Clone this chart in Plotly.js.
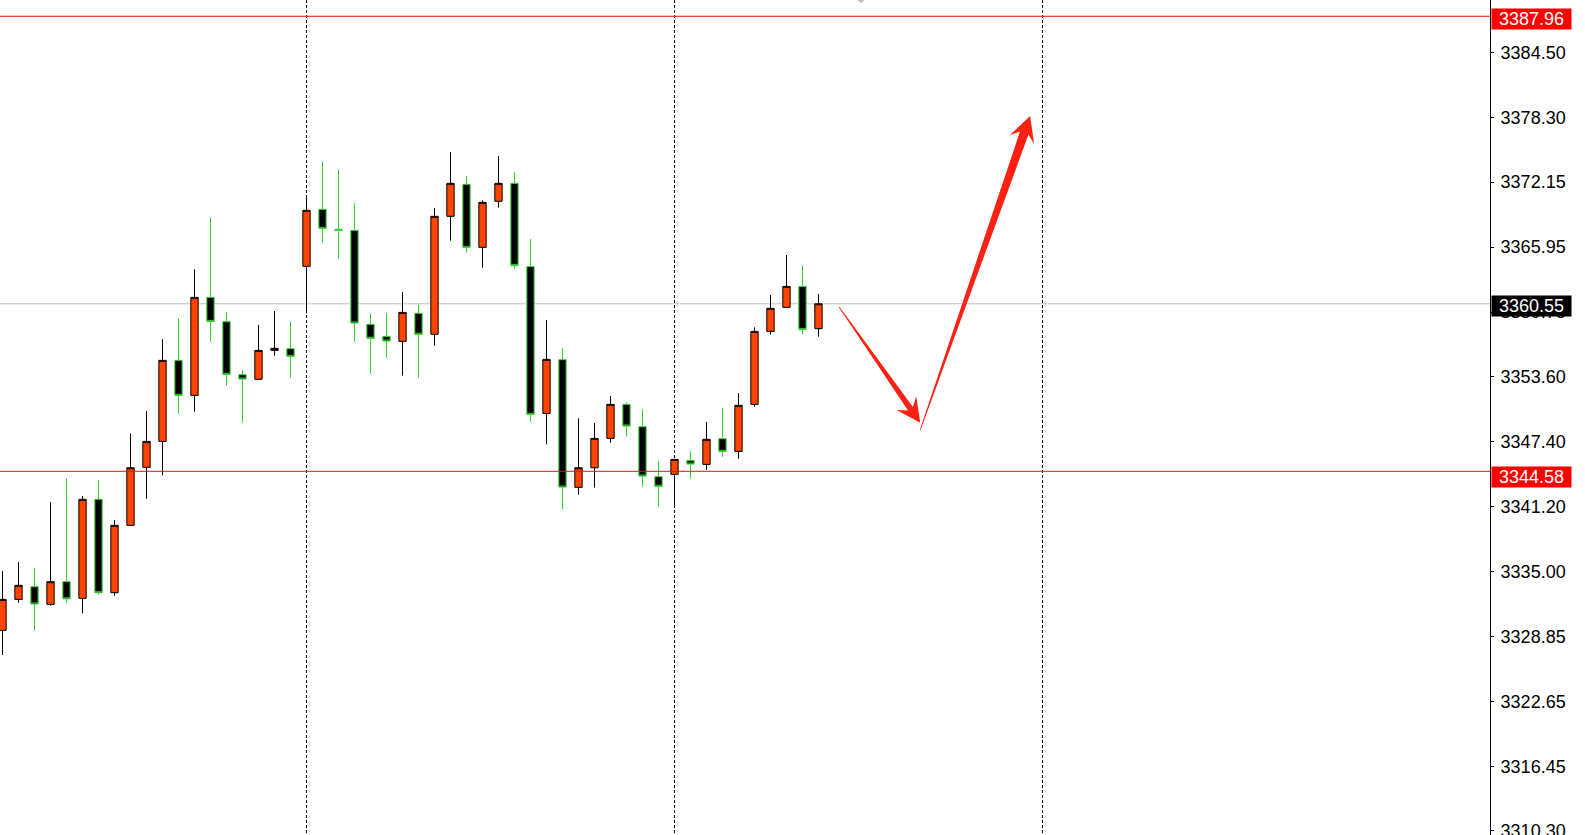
<!DOCTYPE html>
<html>
<head>
<meta charset="utf-8">
<script src="https://cdn.plot.ly/plotly-3.0.1.min.js"></script>
<style>
html,body{margin:0;padding:0;background:#ffffff;overflow:hidden}
#chart{width:1585px;height:835px}
</style>
</head>
<body>
<div id="chart"></div>
<script>
// ---- data (XAUUSD H1 style candles) ----
const barIndex = [0,1,2,3,4,5,6,7,8,9,10,11,12,13,14,15,16,17,18,19,20,21,22,23,24,25,
  26,27,28,29,30,31,32,33,34,35,36,37,38,39,40,41,42,43,44,45,46,47,48,49,50,51];
const openPrices = [3329.42,3332.37,3333.58,3331.90,3334.06,3332.47,3341.91,3333.01,3339.43,3344.96,
  3347.43,3355.16,3351.82,3361.16,3358.84,3353.79,3353.35,3356.11,3356.27,3364.12,
  3369.55,3367.65,3367.55,3358.59,3357.45,3356.97,3359.64,3357.64,3368.89,3371.94,
  3365.93,3370.32,3372.03,3364.09,3350.10,3355.22,3343.05,3344.92,3347.72,3350.96,
  3348.83,3344.07,3344.29,3345.62,3345.24,3347.69,3346.48,3350.96,3357.92,3360.21,
  3362.21,3358.18];
const highPrices = [3335.07,3335.93,3335.36,3341.65,3343.91,3342.22,3343.75,3339.93,3348.20,3350.33,
  3357.16,3359.16,3363.83,3368.73,3359.73,3354.24,3358.53,3359.86,3358.81,3370.92,
  3374.07,3373.30,3370.16,3359.58,3359.67,3361.67,3360.46,3369.68,3375.02,3372.73,
  3370.41,3374.64,3373.08,3366.73,3359.00,3356.30,3349.63,3349.18,3351.76,3351.15,
  3350.49,3345.56,3345.72,3346.51,3349.28,3350.61,3352.04,3358.30,3361.39,3365.20,
  3364.15,3361.48];
const lowPrices = [3327.06,3332.05,3329.45,3331.77,3332.05,3331.04,3332.82,3332.72,3339.43,3341.97,
  3344.19,3350.07,3350.26,3356.94,3352.74,3349.22,3353.35,3355.60,3353.51,3359.64,
  3366.38,3364.85,3356.94,3353.89,3355.41,3353.70,3353.51,3356.56,3366.57,3365.42,
  3363.99,3369.71,3363.90,3349.31,3347.15,3340.95,3342.35,3343.02,3347.31,3347.88,
  3343.11,3341.21,3341.10,3343.88,3344.70,3345.97,3345.78,3350.74,3357.60,3360.21,
  3357.60,3357.41];
const closePrices = [3332.37,3333.71,3331.93,3334.06,3332.43,3341.91,3333.01,3339.43,3344.92,3347.43,
  3355.16,3351.82,3361.16,3358.87,3353.82,3353.38,3356.11,3356.30,3355.54,3369.46,
  3367.74,3367.57,3358.72,3357.26,3357.00,3359.73,3357.64,3368.89,3372.03,3365.93,
  3370.22,3372.03,3364.21,3350.01,3355.25,3343.08,3344.92,3347.72,3350.96,3348.90,
  3344.13,3343.15,3345.72,3345.27,3347.63,3346.48,3350.87,3357.92,3360.12,3362.21,
  3358.11,3360.55];

const daySeparators = [19, 42, 65];
const priceTicks = [3384.50, 3378.30, 3372.15, 3365.95, 3359.75, 3353.60, 3347.40,
  3341.20, 3335.00, 3328.85, 3322.65, 3316.45, 3310.30];
const priceTickLabels = ["3384.50","3378.30","3372.15","3365.95","3359.75","3353.60","3347.40",
  "3341.20","3335.00","3328.85","3322.65","3316.45","3310.30"];
const levelPrices = [3387.96, 3344.58];
const levelLabels = ["3387.96", "3344.58"];
const bidPrice = 3360.55;
const bidLabel = "3360.55";
// drawn forecast arrows: [barIndex, price] tail -> tip
const arrowDown = {tail: [52.29, 3360.24], tip: [57.36, 3349.21]};
const arrowUp = {tail: [57.36, 3348.52], tip: [64.23, 3378.45]};

// ---- view ----
const xRange = [-0.156, 92.97];
const yRange = [3309.91, 3389.51];
const plotW = 1490, plotH = 835;

function toPx(pt) {
  return [(pt[0] - xRange[0]) / (xRange[1] - xRange[0]) * plotW,
          (yRange[1] - pt[1]) / (yRange[1] - yRange[0]) * plotH];
}
function toData(px) {
  return [xRange[0] + px[0] / plotW * (xRange[1] - xRange[0]),
          yRange[1] - px[1] / plotH * (yRange[1] - yRange[0])];
}
function arrowPath(a, shaftTail, shaftHead, headLen, headHalf, notch) {
  const T = toPx(a.tail), H = toPx(a.tip);
  const dx = H[0] - T[0], dy = H[1] - T[1];
  const len = Math.hypot(dx, dy);
  const u = [dx / len, dy / len], n = [-u[1], u[0]];
  const P = (base, along, side) => [base[0] + u[0] * along + n[0] * side, base[1] + u[1] * along + n[1] * side];
  const pts = [
    P(T, 0, shaftTail),
    P(H, -notch, shaftHead),
    P(H, -headLen, headHalf),
    H,
    P(H, -headLen, -headHalf),
    P(H, -notch, -shaftHead),
    P(T, 0, -shaftTail)
  ].map(toData);
  return 'M' + pts.map(p => p[0].toFixed(4) + ',' + p[1].toFixed(4)).join(' L') + ' Z';
}

const candles = {
  type: 'candlestick',
  x: barIndex,
  open: openPrices,
  high: highPrices,
  low: lowPrices,
  close: closePrices,
  increasing: {line: {color: '#000000', width: 1}, fillcolor: '#FF4500'},
  decreasing: {line: {color: '#32D232', width: 1}, fillcolor: '#000000'},
  whiskerwidth: 0,
  hoverinfo: 'none'
};

const fontFam = '"Liberation Sans", Arial, sans-serif';
const shapes = [];
shapes.push({type: 'line', xref: 'paper', x0: 0, x1: 1, yref: 'y', y0: bidPrice, y1: bidPrice,
  line: {color: '#C0C0C0', width: 1}, layer: 'below'});
levelPrices.forEach(p => shapes.push({type: 'line', xref: 'paper', x0: 0, x1: 1, yref: 'y', y0: p, y1: p,
  line: {color: '#DC1414', width: 1}, layer: 'above'}));
shapes.push({type: 'path', xref: 'x', yref: 'y', path: arrowPath(arrowDown, 0.4, 3, 24, 12, 17),
  fillcolor: '#FF2014', line: {width: 0}, layer: 'above'});
shapes.push({type: 'path', xref: 'x', yref: 'y', path: arrowPath(arrowUp, 0.4, 4.5, 25, 13, 18),
  fillcolor: '#FF2014', line: {width: 0}, layer: 'above'});
// chart-shift marker at the top
shapes.push({type: 'path', xref: 'paper', yref: 'paper',
  path: 'M0.5752,1 L0.5805,1 L0.5779,0.9964 Z', fillcolor: '#C0C0C0', line: {width: 0}});

const levelShifts = [-3, -5.5];
const annotations = [];
levelPrices.forEach((p, i) => annotations.push({
  xref: 'paper', x: 1, xanchor: 'left', xshift: 1, yref: 'y', y: p, yanchor: 'middle', yshift: levelShifts[i],
  text: levelLabels[i], showarrow: false, bgcolor: '#FF0000', borderpad: 0, width: 79, height: 20,
  font: {family: fontFam, size: 18, color: '#FFFFFF'}
}));
annotations.push({
  xref: 'paper', x: 1, xanchor: 'left', xshift: 1, yref: 'y', y: bidPrice, yanchor: 'middle', yshift: -2,
  text: bidLabel, showarrow: false, bgcolor: '#000000', borderpad: 0, width: 79, height: 20,
  font: {family: fontFam, size: 18, color: '#FFFFFF'}
});

const layout = {
  width: 1585, height: 835,
  margin: {l: 0, r: 95, t: 0, b: 0, pad: 0},
  paper_bgcolor: '#FFFFFF', plot_bgcolor: '#FFFFFF',
  showlegend: false,
  boxgap: 0.35,
  xaxis: {
    range: xRange, tickvals: daySeparators, showticklabels: false, ticks: '',
    showgrid: true, gridcolor: '#000000', gridwidth: 1, griddash: '3px,2px',
    zeroline: false, showline: false, rangeslider: {visible: false}, fixedrange: true
  },
  yaxis: {
    side: 'right', range: yRange, tickvals: priceTicks, ticktext: priceTickLabels,
    ticks: 'outside', ticklen: 3, tickcolor: '#000000', tickwidth: 1,
    showgrid: false, zeroline: false, showline: true, linecolor: '#000000', linewidth: 1,
    tickfont: {family: fontFam, size: 18, color: '#000000'}, ticklabelstandoff: 3,
    ticklabeloverflow: 'allow', fixedrange: true
  },
  shapes: shapes,
  annotations: annotations
};

Plotly.newPlot('chart', [candles], layout, {displayModeBar: false, staticPlot: true});
</script>
</body>
</html>
